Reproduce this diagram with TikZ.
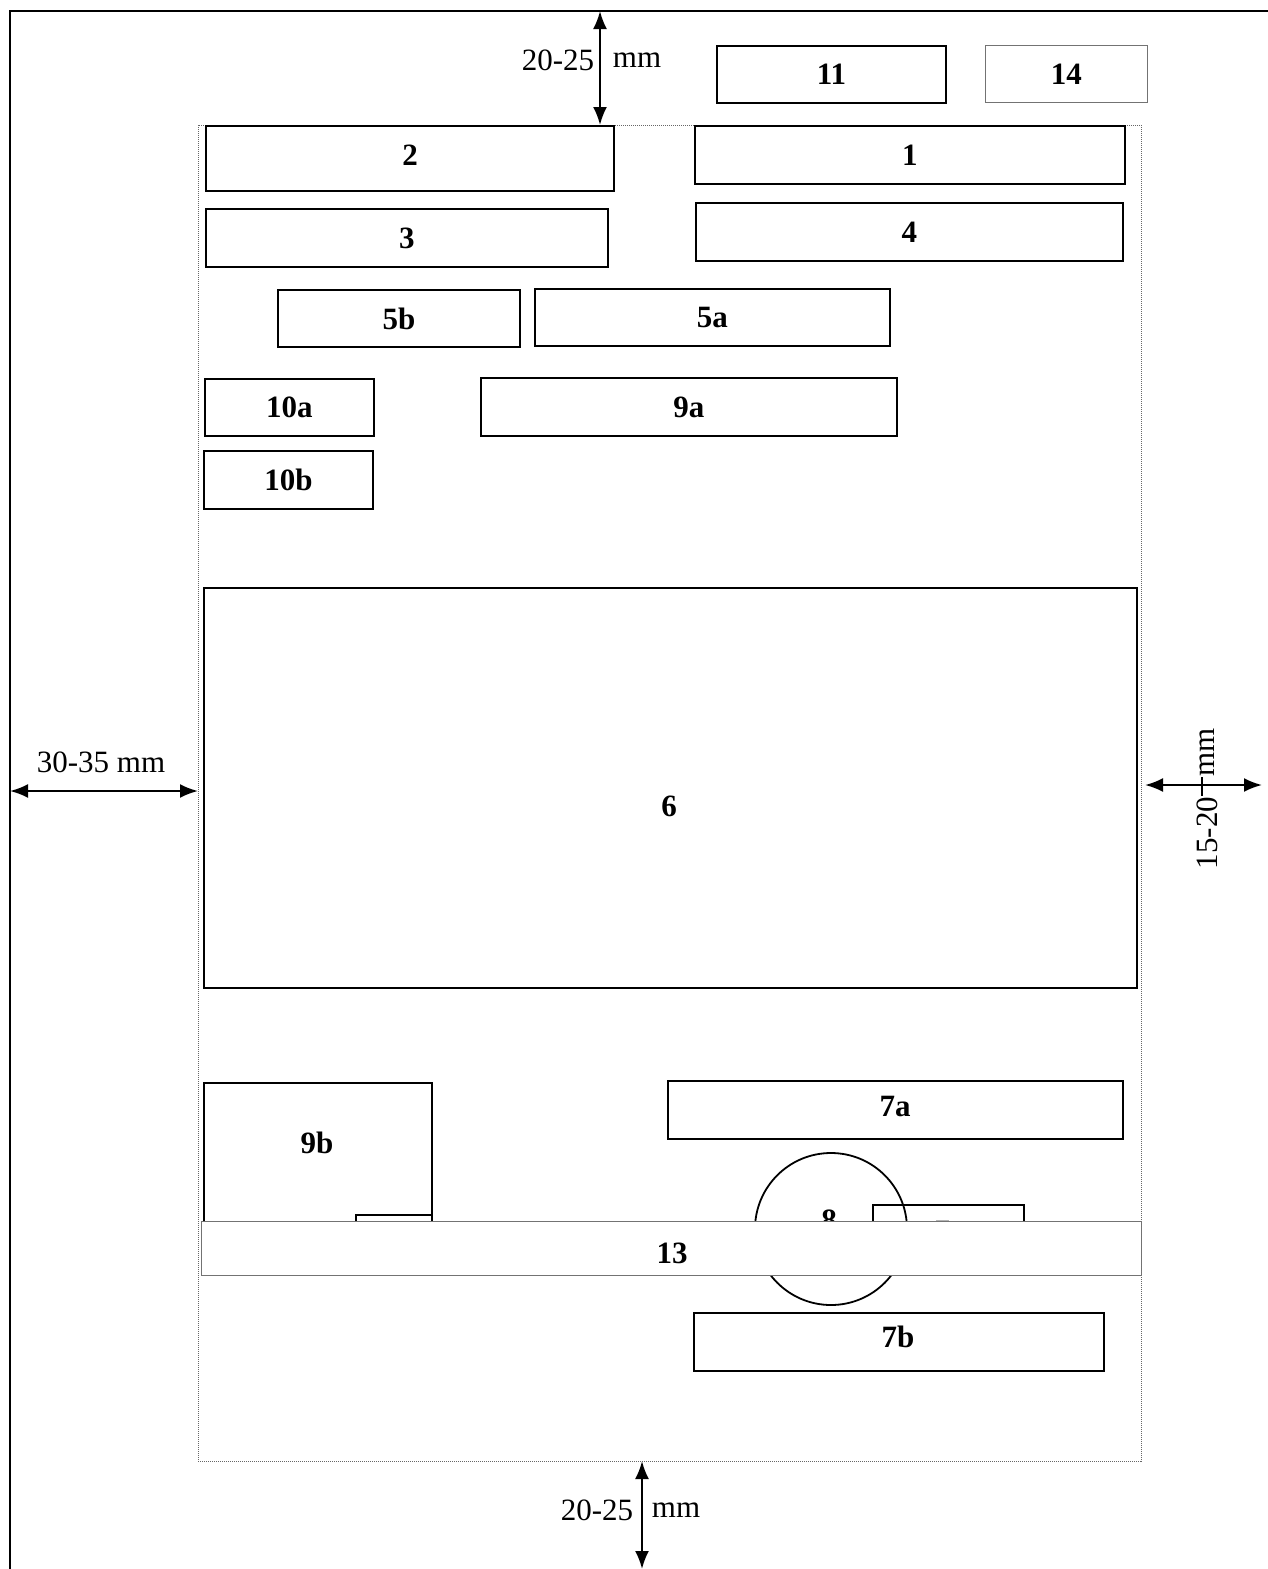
\documentclass[tikz,border=0pt]{standalone}
\usepackage{fontspec}
\setmainfont{Liberation Serif}
\usetikzlibrary{arrows.meta}
\begin{document}
\begin{tikzpicture}[x=1pt,y=-1pt,
  every node/.style={font=\fontsize{31}{36}\selectfont},
  box/.style={draw=black,line width=1.8pt,rectangle,anchor=north west,inner sep=0pt,font=\fontsize{31}{36}\selectfont\bfseries},
  thinbox/.style={draw=black!55,line width=0.9pt,rectangle,anchor=north west,inner sep=0pt,font=\fontsize{31}{36}\selectfont\bfseries},
  lbl/.style={font=\fontsize{31}{36}\selectfont\bfseries,inner sep=0pt},
  dim/.style={{Latex[length=18pt,width=14pt]}-{Latex[length=18pt,width=14pt]},line width=2.2pt},
  txt/.style={inner sep=0pt}]
\useasboundingbox (0,0) rectangle (1268,1569);
% outer page frame
\draw[line width=2.4pt] (10,1569) -- (10,11) -- (1268,11);
% inner text area
\draw[black!60,line width=1pt,densely dotted] (198,125) rectangle (1141,1461);
\coordinate (pageTop) at (600,11);
\coordinate (areaTop) at (600,125);
\coordinate (pageLeft) at (10,791);
\coordinate (areaLeft) at (198,791);
\coordinate (areaRight) at (1145,785);
\coordinate (pageRight) at (1262,785);
\coordinate (areaBot) at (642,1461);
\coordinate (pageBot) at (642,1569);
% boxes
\node[box,minimum width=229pt,minimum height=57pt] (b11) at (716,45) {11};
\node[thinbox,minimum width=162pt,minimum height=57pt] (b14) at (985,45) {14};
\node[box,minimum width=408pt,minimum height=65pt] (b2) at (205,125) {};
\node[lbl] (t2) at (410,155) {2};
\node[box,minimum width=430pt,minimum height=58pt] (b1) at (694,125) {1};
\node[box,minimum width=402pt,minimum height=58pt] (b3) at (205,208) {3};
\node[box,minimum width=427pt,minimum height=58pt] (b4) at (695,202) {4};
\node[box,minimum width=242pt,minimum height=57pt] (b5b) at (277,289) {5b};
\node[box,minimum width=355pt,minimum height=57pt] (b5a) at (534,288) {5a};
\node[box,minimum width=169pt,minimum height=57pt] (b10a) at (204,378) {10a};
\node[box,minimum width=416pt,minimum height=58pt] (b9a) at (480,377) {9a};
\node[box,minimum width=169pt,minimum height=58pt] (b10b) at (203,450) {10b};
\node[box,minimum width=933pt,minimum height=400pt] (b6) at (203,587) {};
\node[lbl] (t6) at (669,806) {6};
% lower group
\node[box,minimum width=228pt,minimum height=160pt] (b9b) at (203,1082) {};
\node[lbl] (t9b) at (317,1143) {9b};
\node[box,minimum width=76pt,minimum height=26pt] (b9s) at (355,1214) {};
\node[box,minimum width=455pt,minimum height=58pt] (b7a) at (667,1080) {};
\node[lbl] (t7a) at (895,1106) {7a};
\node[draw,line width=1.8pt,circle,minimum size=152pt,inner sep=0pt] (c8) at (831,1229) {};
\node[lbl] (t8) at (829,1220) {8};
\node[box,minimum width=151pt,minimum height=40pt] (b7) at (872,1204) {};
\node[lbl] (t7) at (942,1231) {7};
\node[thinbox,fill=white,minimum width=940pt,minimum height=54pt] (b13) at (201,1221) {};
\node[lbl] (t13) at (672,1253) {13};
\node[box,minimum width=410pt,minimum height=58pt] (b7b) at (693,1312) {};
\node[lbl] (t7b) at (898,1337) {7b};
% dimension arrows
\draw[dim] (pageTop) -- (areaTop);
\node[txt] (d1a) at (558,60) {20-25};
\node[txt] (d1b) at (637,60) {mm};
\draw[dim] (pageLeft) -- (areaLeft);
\node[txt] (d2) at (101,762) {30-35 mm};
\draw[dim] (areaRight) -- (pageRight);
\node[txt,rotate=90] (d3a) at (1207,833) {15-20};
\node[txt,rotate=90] (d3b) at (1207,752) {mm};
\draw[line width=1.4pt] (1202,777) -- (1202,796);
\draw[dim] (areaBot) -- (pageBot);
\node[txt] (d4a) at (597,1510) {20-25};
\node[txt] (d4b) at (676,1510) {mm};
\end{tikzpicture}
\end{document}
